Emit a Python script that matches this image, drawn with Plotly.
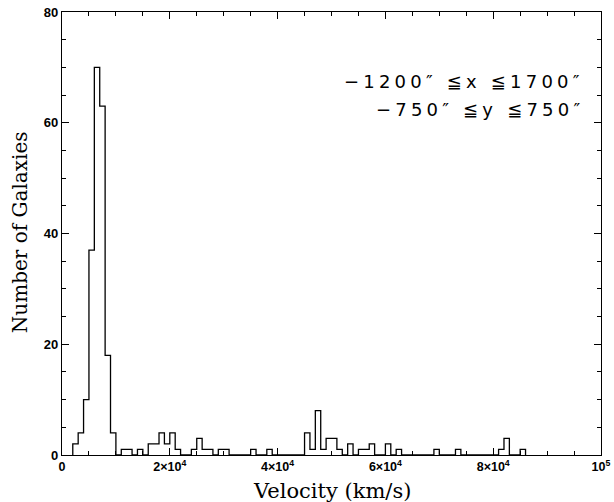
import plotly.graph_objects as go

# Histogram: bins of 1000 km/s starting at 2000 km/s
bin_start = 2000
bin_width = 1000
counts = [2, 4, 10, 37, 70, 63, 18, 4, 0, 1,
          1, 0, 1, 0, 2, 2, 4, 2, 4, 1,
          0, 0, 1, 3, 1, 1, 0, 1, 1, 0,
          0, 0, 0, 1, 0, 0, 1, 0, 0, 0,
          0, 0, 0, 4, 1, 8, 1, 3, 3, 1,
          0, 2, 0, 1, 1, 2, 0, 0, 2, 0,
          1, 0, 0, 0, 0, 0, 0, 1, 0, 0,
          0, 1, 0, 0, 0, 0, 0, 0, 0, 1,
          3, 0, 0, 1]

x_tick_vals = [0, 20000, 40000, 60000, 80000, 100000]
x_tick_text = ["0", "2×10<sup>4</sup>", "4×10<sup>4</sup>", "6×10<sup>4</sup>",
               "8×10<sup>4</sup>", "10<sup>5</sup>"]
y_tick_vals = [0, 20, 40, 60, 80]

edges = [bin_start + i * bin_width for i in range(len(counts) + 1)]
xs = [edges[0]] + edges
ys = [0] + counts + [0]

fig = go.Figure()
fig.add_trace(go.Scatter(x=xs, y=ys, mode="lines", line_shape="hv",
                         line=dict(color="black", width=1.3),
                         hoverinfo="skip", showlegend=False))

tickfont = dict(family="Liberation Sans, Arial", size=12.5, color="black", weight="bold")
fig.update_xaxes(range=[0, 100000], tickvals=x_tick_vals, ticktext=x_tick_text,
                 ticks="inside", ticklen=7, tickwidth=1, tickcolor="black",
                 minor=dict(dtick=5000, ticks="inside", ticklen=4, tickcolor="black", tickwidth=1),
                 showline=True, linecolor="black", linewidth=1.3, mirror="allticks",
                 showgrid=False, zeroline=False, tickfont=tickfont, automargin=False)
fig.update_yaxes(range=[0, 80], tickvals=y_tick_vals,
                 ticks="inside", ticklen=7, tickwidth=1, tickcolor="black",
                 minor=dict(dtick=5, ticks="inside", ticklen=4, tickcolor="black", tickwidth=1),
                 showline=True, linecolor="black", linewidth=1.3, mirror="allticks",
                 showgrid=False, zeroline=False, tickfont=dict(tickfont, size=13),
                 automargin=False)

titlefont = dict(family="DejaVu Serif", color="black")
fig.add_annotation(x=0.501, y=-0.081, xref="paper", yref="paper", xanchor="center",
                   yanchor="middle", showarrow=False, text="Velocity (km/s)",
                   font=dict(titlefont, size=21))
fig.add_annotation(x=-0.078, y=0.503, xref="paper", yref="paper", xanchor="center",
                   yanchor="middle", showarrow=False, text="Number of Galaxies",
                   textangle=-90, font=dict(titlefont, size=20))

annfont = dict(family="DejaVu Sans", size=18, color="black")
span = '<span style="letter-spacing:4.2px">{}</span>'
fig.add_annotation(x=0.972, y=0.842, xref="paper", yref="paper", xanchor="right",
                   yanchor="middle", showarrow=False,
                   text=span.format("−1200″ ≦x ≦1700″"), font=annfont)
fig.add_annotation(x=0.972, y=0.779, xref="paper", yref="paper", xanchor="right",
                   yanchor="middle", showarrow=False,
                   text=span.format("−750″ ≦y ≦750″"), font=annfont)

fig.update_layout(width=614, height=502, margin=dict(l=62, r=13, t=12, b=47, autoexpand=False),
                  paper_bgcolor="white", plot_bgcolor="white")
fig.write_html("out.html")
